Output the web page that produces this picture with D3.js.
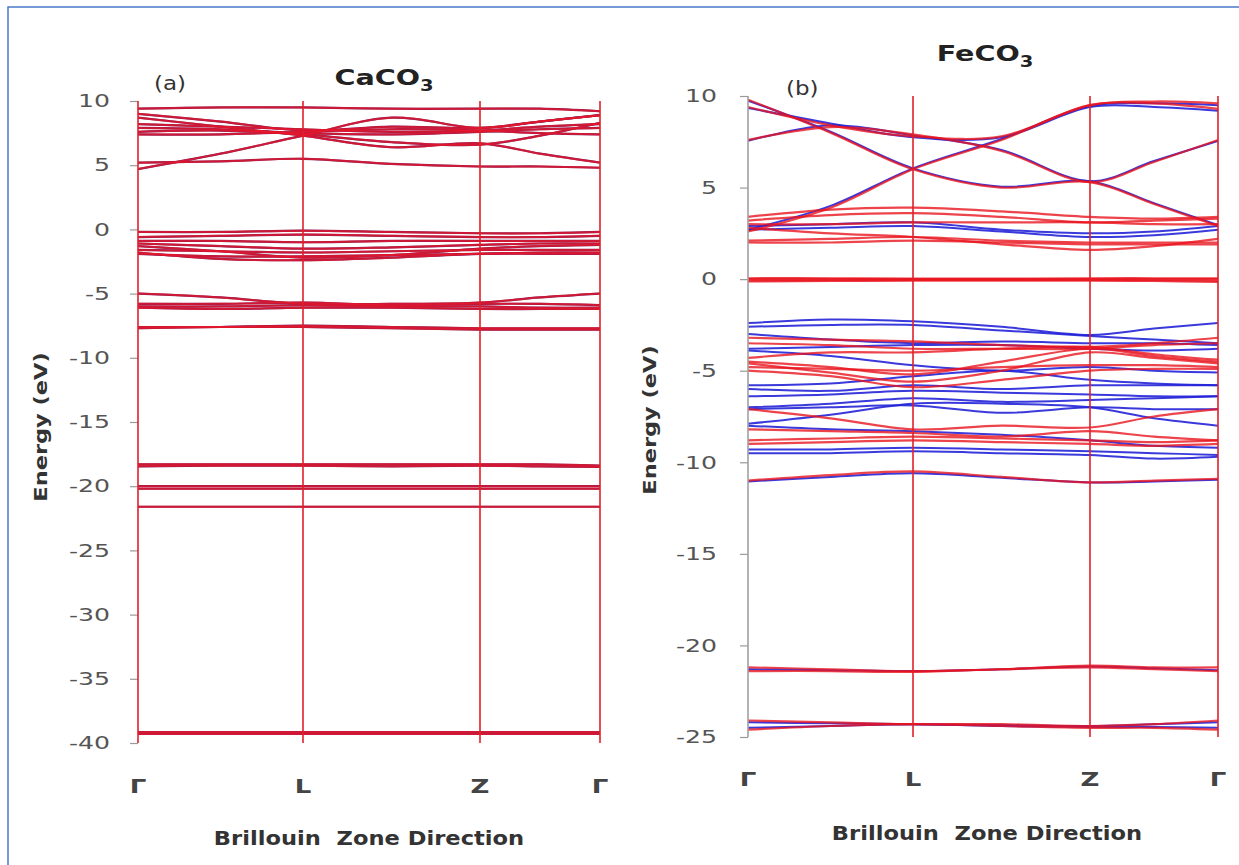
<!DOCTYPE html>
<html><head><meta charset="utf-8">
<script src="https://cdn.jsdelivr.net/npm/d3@7"></script>
<style>body{margin:0;background:#fff}svg{display:block}</style>
</head><body>
<svg id="c" width="1239" height="865"></svg>
<script>
// ---------- DATA ----------
const kPath = [0, 0.5, 1, 1.5, 2, 2.5, 3];          // sample k positions (Γ, ½ΓL, L, ½LZ, Z, ½ZΓ, Γ)
const kSym = [0, 1, 2, 3];
const kLabels = ["Γ", "L", "Z", "Γ"];
const caYTicks = [10, 5, 0, -5, -10, -15, -20, -25, -30, -35, -40];
const feYTicks = [10, 5, 0, -5, -10, -15, -20, -25];

// CaCO3 bands (spin-degenerate)
const caBands = [
  [9.4, 9.5, 9.5, 9.4, 9.4, 9.4, 9.2],
  [9.0, 8.4, 7.7, 8.0, 7.9, 8.4, 8.9],
  [8.2, 8.0, 7.8, 7.6, 7.7, 8.0, 8.2],
  [7.9, 7.8, 7.5, 7.4, 7.6, 7.8, 7.9],
  [7.4, 7.4, 7.6, 7.8, 7.7, 7.5, 7.4],
  [8.7, 8.0, 7.3, 6.4, 6.7, 5.9, 5.2],
  [4.7, 5.9, 7.3, 8.7, 7.9, 8.4, 8.9],
  [5.2, 5.3, 5.5, 5.1, 4.9, 4.9, 4.8],
  [7.6, 7.7, 7.4, 6.8, 6.6, 7.3, 8.3],
  [-0.2, -0.2, -0.1, -0.2, -0.3, -0.3, -0.2],
  [-0.6, -0.5, -0.4, -0.5, -0.6, -0.6, -0.5],
  [-0.9, -0.9, -1.0, -0.9, -0.9, -0.9, -0.9],
  [-1.1, -1.3, -1.5, -1.4, -1.2, -1.1, -1.1],
  [-1.6, -1.7, -1.8, -1.7, -1.6, -1.6, -1.6],
  [-1.9, -2.1, -2.1, -2.0, -1.9, -1.8, -1.8],
  [-1.8, -2.3, -2.4, -2.2, -1.9, -1.9, -1.9],
  [-1.3, -1.7, -2.2, -2.0, -1.5, -1.3, -1.2],
  [-5.0, -5.3, -5.8, -5.8, -5.7, -5.3, -5.0],
  [-5.8, -5.8, -5.7, -5.9, -5.8, -5.8, -5.9],
  [-6.0, -6.0, -5.9, -6.0, -6.0, -6.1, -6.1],
  [-6.1, -6.2, -6.1, -6.1, -6.2, -6.2, -6.2],
  [-7.7, -7.6, -7.5, -7.6, -7.7, -7.7, -7.7],
  [-7.6, -7.6, -7.6, -7.7, -7.8, -7.8, -7.8],
  [-18.3, -18.3, -18.3, -18.3, -18.3, -18.3, -18.4],
  [-18.45, -18.4, -18.4, -18.45, -18.4, -18.45, -18.5],
  [-20.0, -20.0, -20.0, -20.0, -20.0, -20.0, -20.0],
  [-20.2, -20.2, -20.2, -20.2, -20.2, -20.2, -20.2],
  [-21.6, -21.6, -21.6, -21.6, -21.6, -21.6, -21.6],
  [-39.15, -39.15, -39.15, -39.15, -39.15, -39.15, -39.15],
  [-39.3, -39.3, -39.3, -39.3, -39.3, -39.3, -39.3]
];

// FeCO3 spin-up (red)
const feUpBands = [
  [9.8, 8.0, 6.0, 5.0, 5.3, 4.1, 2.9],
  [2.6, 3.9, 6.0, 7.6, 9.5, 9.7, 9.6],
  [9.4, 8.4, 7.8, 7.8, 9.5, 9.6, 9.3],
  [7.6, 8.3, 7.9, 7.0, 5.3, 6.4, 7.6],
  [3.4, 3.8, 3.9, 3.7, 3.4, 3.3, 3.4],
  [3.2, 3.5, 3.6, 3.4, 3.1, 3.2, 3.3],
  [3.0, 3.0, 3.1, 3.1, 3.1, 3.0, 3.0],
  [2.8, 2.5, 2.3, 1.9, 1.6, 1.8, 2.2],
  [2.1, 2.2, 2.3, 2.1, 2.0, 2.0, 2.0],
  [2.0, 2.0, 2.1, 2.0, 1.9, 1.9, 1.9],
  [0.05, 0.05, 0.03, 0.03, 0.05, 0.05, 0.05],
  [0.0, 0.0, 0.0, 0.0, 0.0, 0.0, 0.0],
  [-0.07, -0.06, -0.04, -0.04, -0.04, -0.06, -0.08],
  [-0.13, -0.1, -0.08, -0.08, -0.08, -0.1, -0.15],
  [-3.2, -3.3, -3.4, -3.6, -3.7, -3.5, -3.2],
  [-3.5, -3.6, -3.8, -3.8, -3.8, -3.6, -3.5],
  [-4.3, -4.0, -4.0, -3.8, -3.7, -4.1, -4.4],
  [-4.5, -4.8, -5.2, -4.5, -3.8, -4.2, -4.5],
  [-4.6, -5.1, -5.6, -5.0, -4.0, -4.3, -4.6],
  [-4.8, -4.9, -5.0, -4.8, -4.7, -4.7, -4.8],
  [-5.0, -5.3, -5.9, -5.5, -5.0, -4.9, -4.9],
  [-7.1, -7.6, -8.2, -8.0, -8.1, -7.5, -7.1],
  [-8.2, -8.3, -8.4, -8.6, -8.3, -8.6, -8.8],
  [-8.8, -8.7, -8.6, -8.7, -8.8, -8.9, -8.8],
  [-9.0, -8.9, -8.8, -8.9, -9.0, -9.1, -9.0],
  [-11.0, -10.7, -10.5, -10.8, -11.1, -11.0, -10.9],
  [-21.2, -21.3, -21.4, -21.3, -21.1, -21.2, -21.2],
  [-21.4, -21.4, -21.45, -21.3, -21.2, -21.3, -21.4],
  [-24.1, -24.2, -24.3, -24.3, -24.4, -24.3, -24.1],
  [-24.6, -24.4, -24.3, -24.4, -24.5, -24.5, -24.6]
];

// FeCO3 spin-down (blue)
const feDownBands = [
  [9.75, 8.05, 6.05, 5.05, 5.35, 4.15, 2.95],
  [2.7, 4.0, 6.05, 7.65, 9.45, 9.6, 9.5],
  [9.35, 8.5, 7.75, 7.75, 9.4, 9.4, 9.2],
  [7.55, 8.4, 7.85, 7.05, 5.35, 6.45, 7.55],
  [2.7, 2.8, 2.9, 2.6, 2.3, 2.4, 2.7],
  [2.9, 3.0, 3.1, 2.7, 2.5, 2.6, 2.9],
  [-2.4, -2.2, -2.3, -2.6, -3.05, -2.7, -2.4],
  [-2.6, -2.5, -2.5, -2.8, -3.1, -3.3, -3.5],
  [-3.0, -3.3, -3.5, -3.4, -3.5, -3.5, -3.6],
  [-3.8, -3.7, -3.6, -3.6, -3.8, -3.9, -3.8],
  [-3.9, -4.2, -4.7, -5.0, -4.8, -5.0, -5.1],
  [-5.8, -5.7, -5.3, -5.0, -5.5, -5.7, -5.8],
  [-6.0, -6.1, -5.8, -6.0, -5.8, -5.8, -5.8],
  [-6.4, -6.3, -6.1, -6.2, -6.3, -6.4, -6.4],
  [-7.0, -6.8, -6.5, -6.7, -6.6, -6.5, -6.4],
  [-7.1, -7.0, -6.9, -7.3, -7.0, -7.1, -7.1],
  [-7.9, -7.4, -6.8, -6.8, -7.0, -7.6, -8.0],
  [-8.0, -8.2, -8.3, -8.5, -8.8, -9.1, -9.2],
  [-9.3, -9.3, -9.2, -9.3, -9.4, -9.5, -9.6],
  [-9.5, -9.5, -9.4, -9.5, -9.6, -9.8, -9.7],
  [-11.05, -10.8, -10.6, -10.85, -11.1, -11.05, -10.95],
  [-21.3, -21.35, -21.4, -21.3, -21.15, -21.25, -21.35],
  [-24.2, -24.25, -24.3, -24.35, -24.4, -24.3, -24.2],
  [-24.5, -24.4, -24.3, -24.4, -24.45, -24.45, -24.5]
];

// ---------- DRAW ----------
const svg = d3.select("#c");
const SX = 1.4; // horizontal text stretch of the original
const FONT = "DejaVu Sans, sans-serif";

svg.append("rect").attr("x", 8).attr("y", 7).attr("width", 1260).attr("height", 900)
  .attr("fill", "none").attr("stroke", "#4a78cc").attr("stroke-width", 1.5);

function place(sel, x, y, sx, sy) {
  sel.attr("transform", `translate(${x},${y}) scale(${sx},${sy || 1})`);
}

function panel(cfg) {
  const x = d3.scaleLinear().domain(kSym).range(cfg.xr);
  const y = d3.scaleLinear().domain(cfg.yd).range(cfg.yr);
  const g = svg.append("g");

  // axis ticks + labels
  const ax = g.append("g").attr("transform", `translate(${cfg.xr[0]},0)`)
    .call(d3.axisLeft(y).tickValues(cfg.ticks).tickSize(8).tickFormat(d => String(d)));
  ax.select(".domain").remove();
  ax.selectAll(".tick line").attr("stroke", "#9a9a9a").attr("stroke-width", 1.2);
  ax.selectAll(".tick text")
    .attr("x", -(8 + cfg.pad) / SX).attr("transform", `scale(${SX},1)`)
    .attr("fill", "#555").style("font-family", FONT).style("font-size", "18px");

  const line = d3.line().x((d, i) => x(kPath[i])).y(d => y(d)).curve(d3.curveCatmullRom.alpha(0.5));
  const clipId = "clip" + cfg.id;
  g.append("clipPath").attr("id", clipId).append("rect")
    .attr("x", cfg.xr[0]).attr("y", cfg.yr[1] - 2).attr("width", cfg.xr[3] - cfg.xr[0]).attr("height", cfg.yr[0] - cfg.yr[1] + 4);
  const bg = g.append("g").attr("clip-path", `url(#${clipId})`);

  cfg.layers.forEach(L => {
    bg.append("g").selectAll("path").data(L.bands).join("path")
      .attr("d", line).attr("fill", "none").attr("stroke", L.color)
      .attr("stroke-width", L.w).attr("stroke-opacity", L.op);
  });

  // vertical symmetry lines
  kSym.forEach((k, i) => {
    const col = (i === 0 && cfg.grayAxis) ? "#a0a0a0" : "#e0202a";
    g.append("line").attr("x1", x(k)).attr("x2", x(k))
      .attr("y1", cfg.yr[1]).attr("y2", cfg.yr[0])
      .attr("stroke", col).attr("stroke-width", 1.6);
  });

  // x labels
  kSym.forEach((k, i) => {
    const t = g.append("text").text(kLabels[i]).attr("text-anchor", "middle")
      .attr("fill", "#444").style("font-family", FONT)
      .style("font-weight", "bold").style("font-size", "20px");
    place(t, x(k), cfg.xlabY, 1.3);
  });

  // axis titles
  const xt = g.append("text").text("Brillouin  Zone Direction").attr("text-anchor", "middle")
    .attr("fill", "#333").style("font-family", FONT)
    .style("font-weight", "bold").style("font-size", "20px").style("white-space", "pre");
  place(xt, cfg.xtitle[0], cfg.xtitle[1], 1.13);

  const yt = g.append("text").text("Energy (eV)").attr("text-anchor", "middle")
    .attr("fill", "#333").style("font-family", FONT)
    .style("font-weight", "bold").style("font-size", "18px");
  yt.attr("transform", `translate(${cfg.ytitle[0]},${cfg.ytitle[1]}) rotate(-90) scale(1.25,1)`);

  // panel tag
  const tag = g.append("text").text(cfg.tag).attr("fill", "#333")
    .style("font-family", FONT).style("font-size", "20px");
  place(tag, cfg.tagPos[0], cfg.tagPos[1], 1.15);

  // formula title
  const tt = g.append("text").attr("text-anchor", "middle").attr("fill", "#222")
    .style("font-family", FONT).style("font-weight", "bold").style("font-size", "22px");
  tt.append("tspan").text(cfg.formula);
  tt.append("tspan").text("3").attr("dy", 6).style("font-size", "15px");
  place(tt, cfg.titlePos[0], cfg.titlePos[1], 1.3);
}

panel({
  id: "a", xr: [138, 303, 480, 600], yd: [-40, 10], yr: [743, 101], ticks: caYTicks, pad: 20,
  grayAxis: false, xlabY: 793, xtitle: [369, 845], ytitle: [47, 427],
  tag: "(a)", tagPos: [154, 90], formula: "CaCO", titlePos: [384, 85],
  layers: [
    { bands: caBands, color: "#7c1d5e", w: 2.2, op: 1 },
    { bands: caBands, color: "#e8172a", w: 2.0, op: 0.75 }
  ]
});

panel({
  id: "b", xr: [748, 913, 1090, 1218], yd: [-25, 10], yr: [737, 96], ticks: feYTicks, pad: 23,
  grayAxis: true, xlabY: 786, xtitle: [987, 840], ytitle: [656, 420],
  tag: "(b)", tagPos: [786, 95], formula: "FeCO", titlePos: [985, 61],
  layers: [
    { bands: feDownBands, color: "#2323d8", w: 2.0, op: 0.9 },
    { bands: feUpBands, color: "#e8141e", w: 2.2, op: 0.8 }
  ]
});
</script>
</body></html>
